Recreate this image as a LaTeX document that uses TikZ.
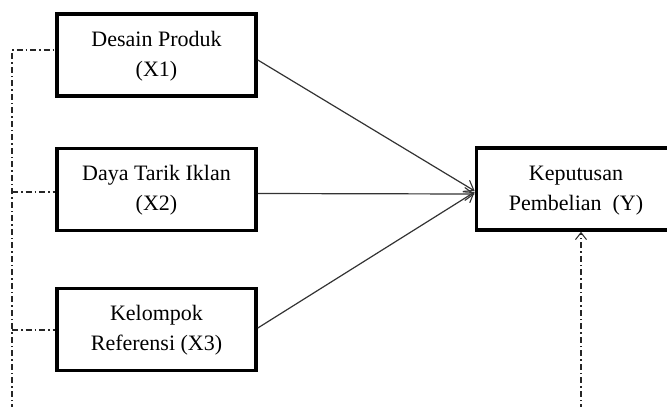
\documentclass[tikz,border=0pt]{standalone}
\usepackage{fontspec}
\setmainfont{Liberation Serif}
\usetikzlibrary{arrows.meta}
\begin{document}
\begin{tikzpicture}[x=1pt,y=-1pt,
  varbox/.style={draw=black, line width=3.6pt, minimum width=199pt, minimum height=82pt,
    inner sep=0pt, align=center, font=\fontsize{22}{30}\selectfont},
  path/.style={draw=black!80, line width=1.2pt, -{Straight Barb[length=9pt,width=13pt,line width=1.1pt]}},
  dashdot/.style={draw=black!85, line width=1.3pt, dash pattern=on 6pt off 3pt on 1.5pt off 3pt}
]
\useasboundingbox (0,0) rectangle (667,407);
\clip (0,0) rectangle (667,407);
\node[varbox] (x1) at (156.5,55) {\strut Desain Produk\\\strut(X1)};
\node[varbox] (x2) at (156.5,189.5) {\strut Daya Tarik Iklan\\\strut(X2)};
\node[varbox] (x3) at (156.5,329.5) {\strut Kelompok\\\strut Referensi (X3)};
\node[varbox] (y) at (576,189) {\strut Keputusan\\\strut Pembelian~~(Y)};

\draw[path] ([yshift=-5pt]x1.east) -- ([yshift=-2pt]y.west);
\draw[path] ([yshift=-4pt]x2.east) -- ([yshift=-5pt]y.west);
\draw[path] ([yshift=1.5pt]x3.east) -- ([yshift=-3pt]y.west);

\coordinate (lt) at (12,50);
\coordinate (lb) at (12,410);
\coordinate (rb) at (581,410);
\draw[dashdot] (lb) -- (lt) -- (lt -| x1.west);
\draw[dashdot] (12,192) -- ([yshift=-2.5pt]x2.west);
\draw[dashdot] (12,330) -- ([yshift=-0.5pt]x3.west);
\draw[dashdot, -{Straight Barb[length=7pt,width=11pt,line width=1pt]}] (rb) -- (rb |- y.south);
\end{tikzpicture}
\end{document}
